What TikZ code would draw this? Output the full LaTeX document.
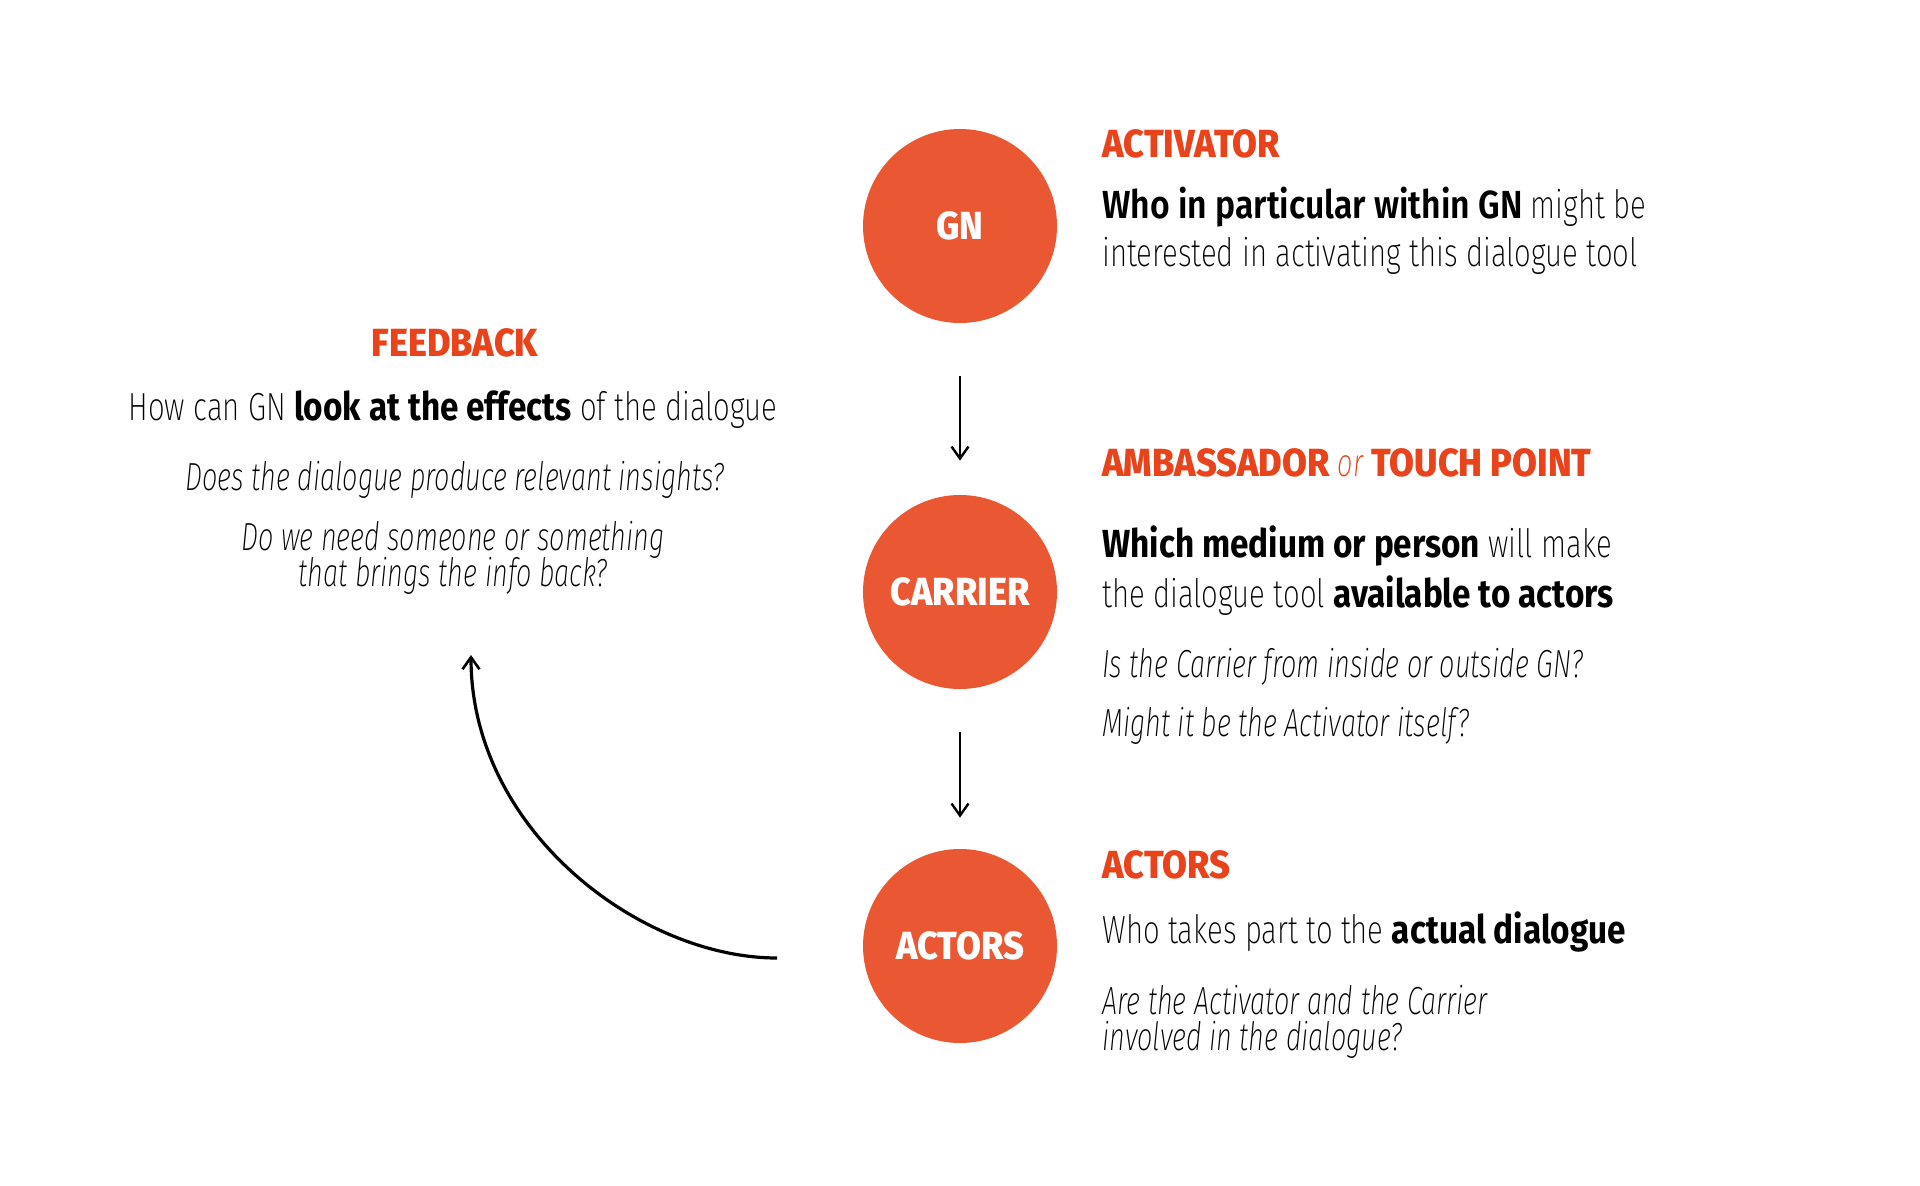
\documentclass[tikz,border=0pt]{standalone}
\usepackage{fontspec}
\usetikzlibrary{arrows.meta}
\IfFontExistsTF{Fira Sans ExtraLight}{%
  \newfontfamily\lightf{Fira Sans ExtraLight}[FakeStretch=0.75]%
}{\IfFontExistsTF{Fira Sans Light}{%
  \newfontfamily\lightf{Fira Sans Light}[FakeStretch=0.75]%
}{\IfFontExistsTF{Open Sans Light}{%
  \newfontfamily\lightf{Open Sans Light}[FakeStretch=0.75]%
}{%
  \newfontfamily\lightf{Fira Sans}[FakeStretch=0.75]%
}}}
\IfFontExistsTF{Fira Sans ExtraLight Italic}{%
  \newfontfamily\italf{Fira Sans ExtraLight Italic}[FakeStretch=0.69]%
}{\IfFontExistsTF{Fira Sans Light Italic}{%
  \newfontfamily\italf{Fira Sans Light Italic}[FakeStretch=0.69]%
}{%
  \newfontfamily\italf{Fira Sans}[FakeStretch=0.69, FakeSlant=0.2]%
}}
\newfontfamily\semif{Fira Sans}[FakeStretch=0.85]
\IfFontExistsTF{Fira Sans SemiBold}{%
  \newfontfamily\demif{Fira Sans SemiBold}[FakeStretch=0.86]%
  \newcommand{\demiser}{\mdseries}%
}{%
  \newfontfamily\demif{Fira Sans}[FakeStretch=0.84]%
  \newcommand{\demiser}{\bfseries}%
}
\IfFontExistsTF{Fira Sans ExtraBold}{%
  \newfontfamily\headf{Fira Sans ExtraBold}[FakeStretch=0.92]%
  \newcommand{\headser}{\mdseries}%
}{%
  \newfontfamily\headf{Fira Sans}[FakeStretch=0.96]%
  \newcommand{\headser}{\bfseries}%
}
\newcommand{\semitxt}[1]{{\semif\bfseries #1}}
\newcommand{\demitxt}[1]{{\demif\demiser #1}}
\definecolor{circ}{HTML}{EA5733}
\definecolor{headc}{HTML}{E8431A}
\newcommand{\fsz}{\fontsize{19.6}{24}\selectfont}
\tikzset{
  stepcirc/.style={circle, fill=circ, minimum size=97pt, inner sep=0pt, text=white, font=\headf\headser\fsz},
  headtxt/.style={anchor=base west, inner sep=0pt, text=headc, font=\headf\headser\fsz},
  bodytxt/.style={anchor=base west, inner sep=0pt, text=black, font=\lightf\fsz},
  qtxt/.style={anchor=base west, inner sep=0pt, text=black, font=\italf\fsz},
  arr/.style={-{Straight Barb[length=6pt,width=8.5pt,line width=1.2pt]}, line width=1.3pt},
  curvearr/.style={-{Straight Barb[length=6pt,width=8.5pt,line width=1.3pt]}, line width=1.6pt}
}
\begin{document}
\begin{tikzpicture}[x=0.5pt, y=-0.5pt]
\useasboundingbox[fill=white] (0,0) rectangle (1920,1186);
% circles
\node[stepcirc] (gn) at (960,226) {GN};
\node[stepcirc] (carrier) at (960,592) {CARRIER};
\node[stepcirc] (actors) at (960,946) {ACTORS};
% vertical arrows
\draw[arr, shorten <=26.5pt, shorten >=17pt] (gn) -- (carrier);
\draw[arr, shorten <=21.5pt, shorten >=15.5pt] (carrier) -- (actors);
% feedback curve
\coordinate (fbstart) at (777,958);
\coordinate (fbend) at (471,655);
\draw[curvearr] (fbstart) .. controls (640,958) and (471,830) .. (fbend);
% activator
\node[headtxt] (h1) at (1102,158) {ACTIVATOR};
\node[bodytxt] (t1a) at (1102,219) {\demitxt{Who in particular within GN} might be};
\node[bodytxt] (t1b) at (1102,267) {interested in activating this dialogue tool};
% ambassador
\node[headtxt] (h2) at (1102,477) {AMBASSADOR {\italf or} TOUCH POINT};
\node[bodytxt] (t2a) at (1102,558) {\semitxt{Which medium or person} will make};
\node[bodytxt] (t2b) at (1102,608) {the dialogue tool \semitxt{available to actors}};
\node[qtxt] (q2a) at (1102,677) {Is the Carrier from inside or outside GN?};
\node[qtxt] (q2b) at (1102,736) {Might it be the Activator itself?};
% actors
\node[headtxt] (h3) at (1102,878) {ACTORS};
\node[bodytxt] (t3a) at (1102,943) {Who takes part to the \semitxt{actual dialogue}};
\node[qtxt] (q3a) at (1102,1014) {Are the Activator and the Carrier};
\node[qtxt] (q3b) at (1102,1050) {involved in the dialogue?};
% feedback
\node[headtxt, anchor=base] (h4) at (455,357) {FEEDBACK};
\node[bodytxt, anchor=base] (t4a) at (453,421) {How can GN \semitxt{look at the effects} of the dialogue};
\node[qtxt, anchor=base] (q4a) at (455,491) {Does the dialogue produce relevant insights?};
\node[qtxt, anchor=base] (q4b) at (453,551) {Do we need someone or something};
\node[qtxt, anchor=base] (q4c) at (453,587) {that brings the info back?};
\end{tikzpicture}
\end{document}
